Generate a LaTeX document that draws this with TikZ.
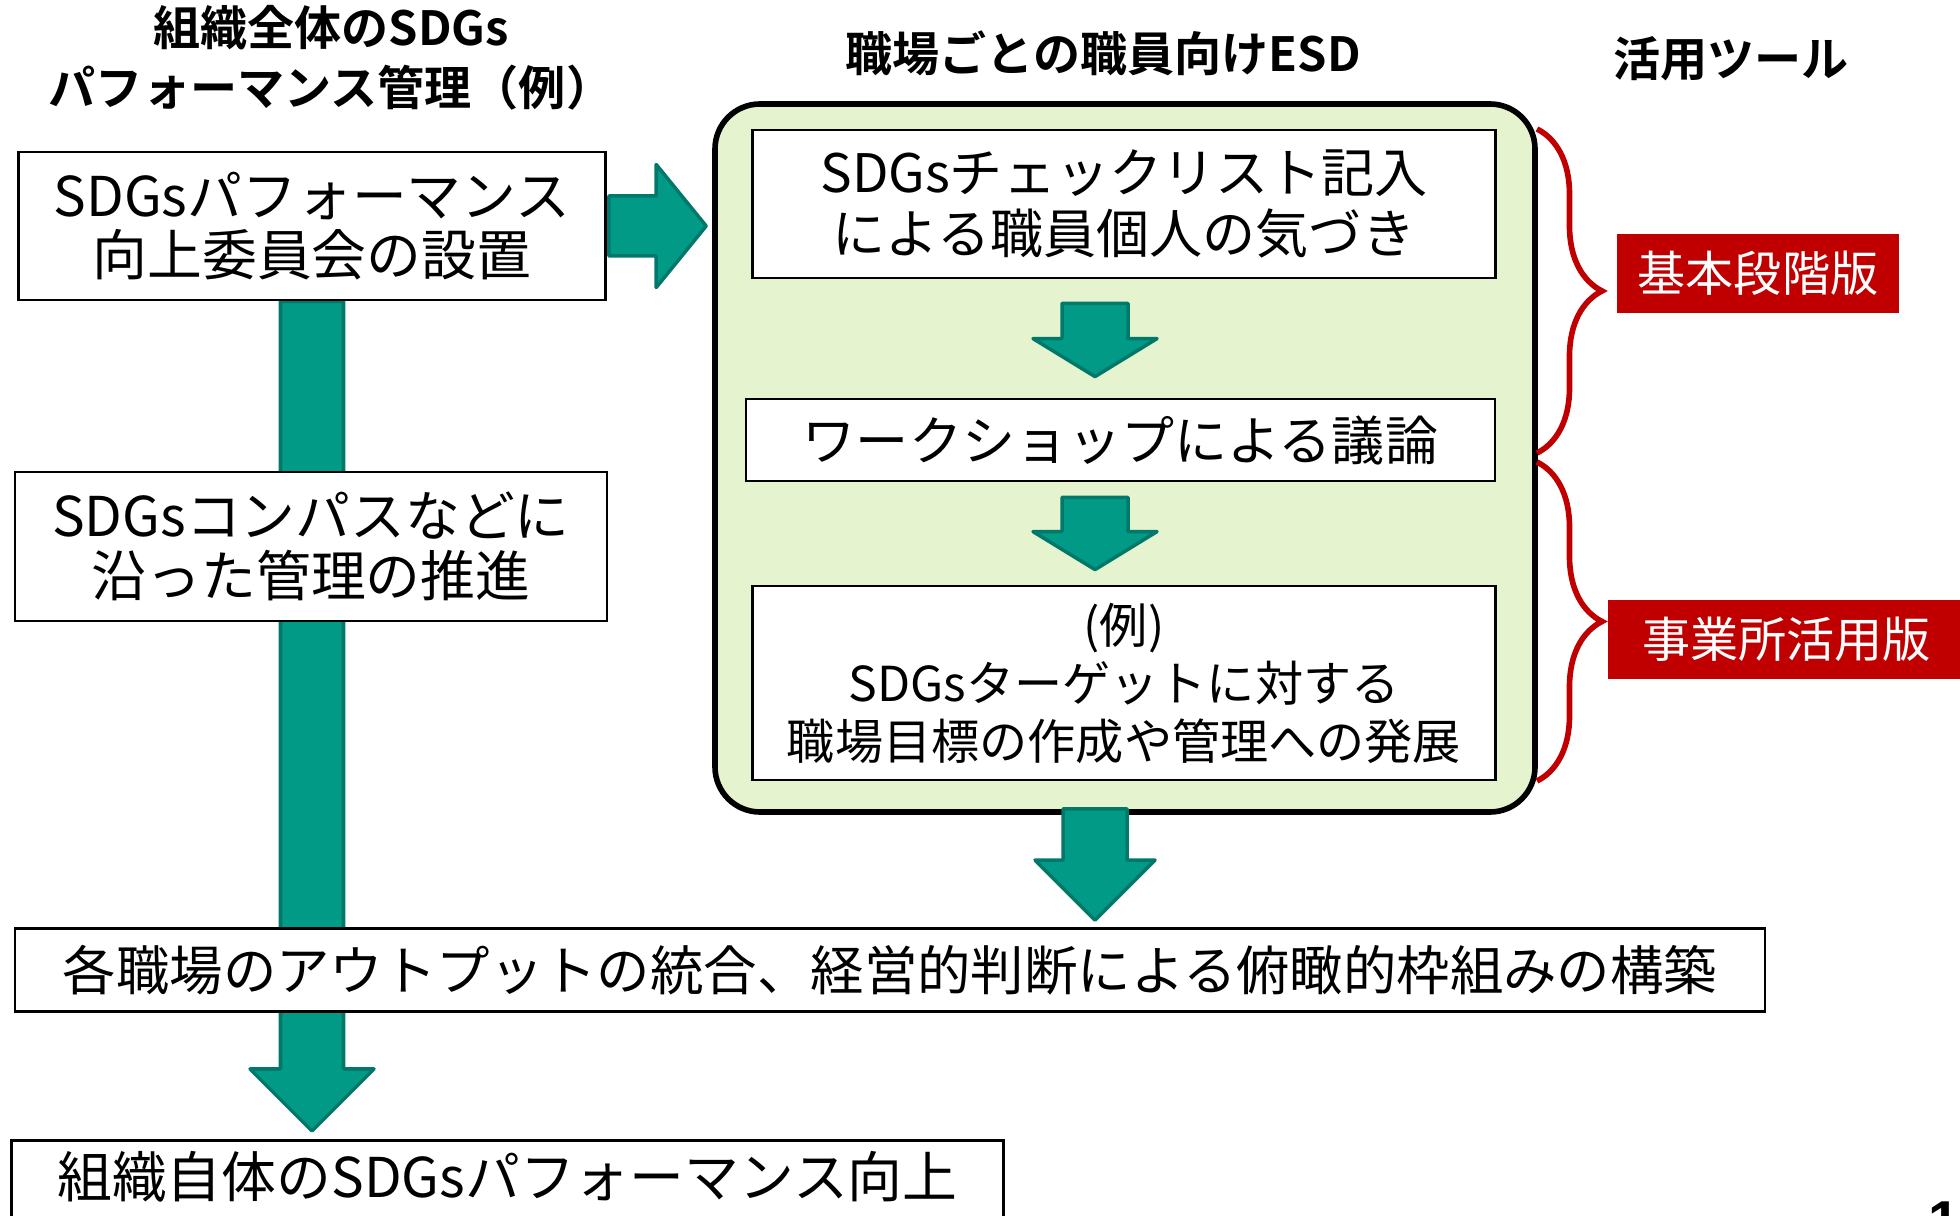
\documentclass[tikz,border=0pt]{standalone}
\usepackage{fontspec}
\setmainfont{Noto Sans CJK JP}[BoldFont={Noto Sans CJK JP Bold}]
\newfontfamily\pagefont{Liberation Sans}
\usetikzlibrary{positioning,shapes,arrows,calc,backgrounds,decorations.pathreplacing}
\definecolor{esdgreen}{HTML}{E5F3CF}
\definecolor{arrowteal}{HTML}{009A87}
\definecolor{arrowedge}{HTML}{00786A}
\definecolor{toolred}{HTML}{C00000}

\newcommand{\downblock}[5]{%
  \filldraw[blockarr] let \p1=#1, \p2=#2 in
    (\x1-#3,\y1) -- (\x1+#3,\y1) -- (\x1+#3,\y2+#5) -- (\x1+#4,\y2+#5)
    -- (\x1,\y2) -- (\x1-#4,\y2+#5) -- (\x1-#3,\y2+#5) -- cycle;}
\newcommand{\rightblock}[5]{%
  \filldraw[blockarr] let \p1=#1, \p2=#2 in
    (\x1,\y1-#3) -- (\x2-#5,\y1-#3) -- (\x2-#5,\y1-#4) -- (\x2,\y1)
    -- (\x2-#5,\y1+#4) -- (\x2-#5,\y1+#3) -- (\x1,\y1+#3) -- cycle;}

\begin{document}
\begin{tikzpicture}[
      box/.style={
        draw=black,
        fill=white,
        line width=0.8pt,
        inner sep=0pt,
        align=center,
        font=\fontsize{15.6}{17}\selectfont,
      },
      title/.style={
        align=center,
        inner sep=0pt,
        font=\bfseries\fontsize{13.4}{17}\selectfont,
      },
      tool/.style={
        fill=toolred,
        text=white,
        inner sep=0pt,
        minimum height=0.79cm,
        font=\fontsize{13.7}{16}\selectfont,
      },
      blockarr/.style={
        fill=arrowteal,
        draw=arrowedge,
        line width=1pt,
        line join=round,
      },
      curly/.style={
        draw=toolred,
        line width=1.6pt,
        decorate,
        decoration={brace, amplitude=0.65cm, aspect=0.5},
      }]
      \useasboundingbox (0,0) rectangle (19.6,-12.16);
      \node[title] (t1) at (3.31,-0.58) {組織全体のSDGs\\パフォーマンス管理（例）};
      \node[title] (t2) at (11.03,-0.53) {職場ごとの職員向けESD};
      \node[title] (t3) at (17.31,-0.59) {活用ツール};

      \node[draw=black, fill=esdgreen, line width=1.6pt, rounded corners=0.45cm,
        minimum width=8.2cm, minimum height=7.08cm] (esd) at (11.25,-4.58) {};
      \node[box, minimum width=7.43cm, minimum height=1.48cm,
        font=\fontsize{15.1}{17.3}\selectfont] (chk) at (11.24,-2.04)
        {SDGsチェックリスト記入\\による職員個人の気づき};
      \node[box, minimum width=7.49cm, minimum height=0.82cm,
        font=\fontsize{15.1}{16}\selectfont] (ws) at (11.205,-4.40)
        {ワークショップによる議論};
      \node[box, minimum width=7.43cm, minimum height=1.94cm,
        font=\fontsize{13.7}{16.5}\selectfont] (goal) at (11.24,-6.83)
        {(例)\\SDGsターゲットに対する\\職場目標の作成や管理への発展};

      \node[box, minimum width=5.87cm, minimum height=1.48cm] (comm) at (3.12,-2.26)
        {SDGsパフォーマンス\\向上委員会の設置};
      \node[box, minimum width=5.92cm, minimum height=1.49cm] (comp) at (3.11,-5.465)
        {SDGsコンパスなどに\\沿った管理の推進};
      \node[box, minimum width=17.5cm, minimum height=0.83cm,
        font=\fontsize{15.2}{17}\selectfont] (integ) at (8.90,-9.70)
        {各職場のアウトプットの統合、経営的判断による俯瞰的枠組みの構築};
      \node[box, anchor=north west, minimum width=9.92cm, inner ysep=0.09cm,
        text height=0.48cm, text depth=0.6cm] (perf) at (0.10,-11.39)
        {組織自体のSDGsパフォーマンス向上};

      \node[tool, minimum width=2.82cm] (basic) at (17.58,-2.735) {基本段階版};
      \node[tool, minimum width=3.57cm] (site) at (17.865,-6.395) {事業所活用版};
      \node[anchor=north west, inner sep=0pt, font=\pagefont\bfseries\fontsize{16}{18}\selectfont]
        (pg) at (19.28,-12.01) {10};

      \coordinate (ax) at (10.95,0);
      \begin{scope}[on background layer]
        \downblock{(comm.south)}{($(comm.south |- perf.north)+(0,0.08)$)}{0.315cm}{0.62cm}{0.62cm}
      \end{scope}
      \rightblock{($(comm.east)+(0.02,0)$)}{($(esd.west |- comm.east)+(-0.06,0)$)}{0.30cm}{0.615cm}{0.50cm}
      \downblock{($(chk.south -| ax)+(0,-0.24)$)}{($(ws.north -| ax)+(0,0.21)$)}{0.33cm}{0.62cm}{0.38cm}
      \downblock{($(ws.south -| ax)+(0,-0.15)$)}{($(goal.north -| ax)+(0,0.15)$)}{0.33cm}{0.62cm}{0.38cm}
      \downblock{($(esd.south -| ax)+(0,0.06)$)}{($(integ.north -| ax)+(0,0.07)$)}{0.32cm}{0.60cm}{0.60cm}

      \coordinate (b1) at (15.37,-1.29);
      \coordinate (b2) at (15.37,-4.53);
      \coordinate (b3) at (15.37,-4.62);
      \coordinate (b4) at (15.37,-7.81);
      \draw[curly] (b1) -- (b2);
      \draw[curly] (b3) -- (b4);
    \end{tikzpicture}
\end{document}
